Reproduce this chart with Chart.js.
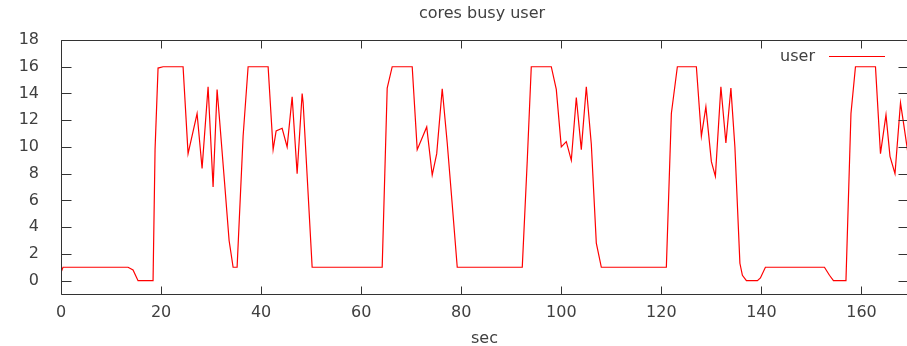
<!DOCTYPE html>
<html>
<head>
<meta charset="utf-8">
<title>cores busy user</title>
<script src="https://cdn.jsdelivr.net/npm/chart.js@4/dist/chart.umd.min.js"></script>
<style>
    html, body { margin: 0; padding: 0; background: #fff; overflow: hidden; }
    #wrap { width: 912px; height: 346px; }
</style>
</head>
<body>
<div id="wrap"><canvas id="chart" width="912" height="346"></canvas></div>
<script>
// Sample times (sec) and busy user cores at each sample
const secs = [
    0, 0.4, 13.4, 14.4, 15.4, 18.4, 18.8, 19.4, 20.4, 24.4,
    25.4, 27.2, 28.2, 29.4, 30.4, 31.2, 31.7, 32.7, 33.6, 34.4,
    35.2, 36.4, 37.4, 41.4, 42.4, 43.0, 44.2, 45.2, 46.2, 47.2,
    48.2, 48.4, 50.2, 64.2, 65.2, 66.2, 70.2, 71.2, 73.1, 74.2,
    75.1, 76.2, 77.2, 78.2, 79.2, 92.2, 93.2, 94.0, 98.0, 99.0,
    100.0, 101.0, 102.0, 103.0, 104.0, 105.0, 106.0, 107.0, 108.0, 121.0,
    122.0, 123.2, 127.0, 128.0, 128.9, 130.0, 130.8, 131.9, 132.9, 133.9,
    134.7, 135.7, 136.2, 137.0, 139.2, 139.8, 140.8, 152.6, 153.6, 154.4,
    156.9, 157.9, 158.8, 162.8, 163.8, 164.9, 165.7, 166.7, 167.8, 168.4,
    169.3
];
const userCores = [
    0.6, 1, 1, 0.8, 0, 0, 9.8, 15.9, 16, 16,
    9.5, 12.5, 8.4, 14.5, 7.0, 14.3, 12, 7.3, 3.0, 1,
    1, 10.8, 16, 16, 9.8, 11.2, 11.4, 10.0, 13.75, 8.0,
    14.0, 13.3, 1, 1, 14.4, 16, 16, 9.8, 11.5, 7.9,
    9.5, 14.35, 10.3, 5.7, 1, 1, 9, 16, 16, 14.3,
    10.0, 10.4, 9.0, 13.7, 9.8, 14.5, 10.2, 2.8, 1, 1,
    12.5, 16, 16, 10.8, 13.0, 8.9, 7.8, 14.5, 10.3, 14.4,
    10.0, 1.3, 0.4, 0, 0, 0.2, 1, 1, 0.4, 0,
    0, 12.5, 16, 16, 9.5, 12.4, 9.3, 8.0, 13.3, 11.8,
    9.5
];
const xTicks = [0, 20, 40, 60, 80, 100, 120, 140, 160];
const yTicks = [0, 2, 4, 6, 8, 10, 12, 14, 16, 18];

const TEXT = '#404040';
const FRAME = '#333333';
const LINE = 'rgb(255,0,0)';

Chart.defaults.font.family = "'DejaVu Sans', sans-serif";
Chart.defaults.font.size = 16;
Chart.defaults.color = TEXT;

// Frame with inward ticks on all sides, title and key
const plotFrame = {
    id: 'plotFrame',
    afterDraw(chart) {
        const { ctx, chartArea: a, scales } = chart;
        const L = Math.round(a.left) + 0.5, R = Math.round(a.right) + 0.5;
        const T = Math.round(a.top) + 0.5, B = Math.round(a.bottom) + 0.5;
        ctx.save();
        ctx.strokeStyle = FRAME;
        ctx.lineWidth = 1;
        ctx.beginPath();
        xTicks.forEach(v => {
            const px = Math.round(scales.x.getPixelForValue(v)) + 0.5;
            ctx.moveTo(px, B); ctx.lineTo(px, B - 8);
            ctx.moveTo(px, T); ctx.lineTo(px, T + 8);
        });
        yTicks.forEach(v => {
            const py = Math.round(scales.y.getPixelForValue(v)) + 0.5;
            ctx.moveTo(L, py); ctx.lineTo(L + 10, py);
            ctx.moveTo(R, py); ctx.lineTo(R - 10, py);
        });
        ctx.rect(L, T, R - L, B - T);
        ctx.stroke();

        ctx.fillStyle = TEXT;
        ctx.font = "16px 'DejaVu Sans', sans-serif";
        ctx.textAlign = 'center';
        ctx.textBaseline = 'alphabetic';
        ctx.fillText('cores busy user', 482, 18);

        // key
        ctx.textAlign = 'right';
        ctx.fillText('user', 815, 61);
        ctx.strokeStyle = LINE;
        ctx.lineWidth = 1.2;
        ctx.beginPath();
        ctx.moveTo(829, 56.5);
        ctx.lineTo(885, 56.5);
        ctx.stroke();
        ctx.restore();
    }
};

new Chart(document.getElementById('chart'), {
    type: 'line',
    data: {
        datasets: [{
            label: 'user',
            data: secs.map((s, i) => ({ x: s, y: userCores[i] })),
            borderColor: LINE,
            borderWidth: 1.2,
            pointRadius: 0,
            tension: 0,
            fill: false
        }]
    },
    options: {
        responsive: false,
        animation: false,
        layout: { padding: { top: 40, right: 4, left: 0, bottom: 0 } },
        plugins: {
            legend: { display: false },
            title: { display: false },
            tooltip: { enabled: false }
        },
        scales: {
            x: {
                type: 'linear',
                min: 0,
                max: 169.3,
                afterBuildTicks: scale => { scale.ticks = xTicks.map(v => ({ value: v })); },
                afterFit: scale => { scale.height = 52; },
                grid: { display: false },
                border: { display: false },
                ticks: { padding: 1, maxRotation: 0, autoSkip: false, color: TEXT },
                title: { display: true, text: 'sec', color: TEXT, padding: { top: 0, bottom: -2 } }
            },
            y: {
                type: 'linear',
                min: -1,
                max: 18,
                afterBuildTicks: scale => { scale.ticks = yTicks.map(v => ({ value: v })); },
                afterFit: scale => { scale.width = 61; },
                grid: { display: false },
                border: { display: false },
                ticks: { padding: 14, autoSkip: false, color: TEXT }
            }
        }
    },
    plugins: [plotFrame]
});
</script>
</body>
</html>
